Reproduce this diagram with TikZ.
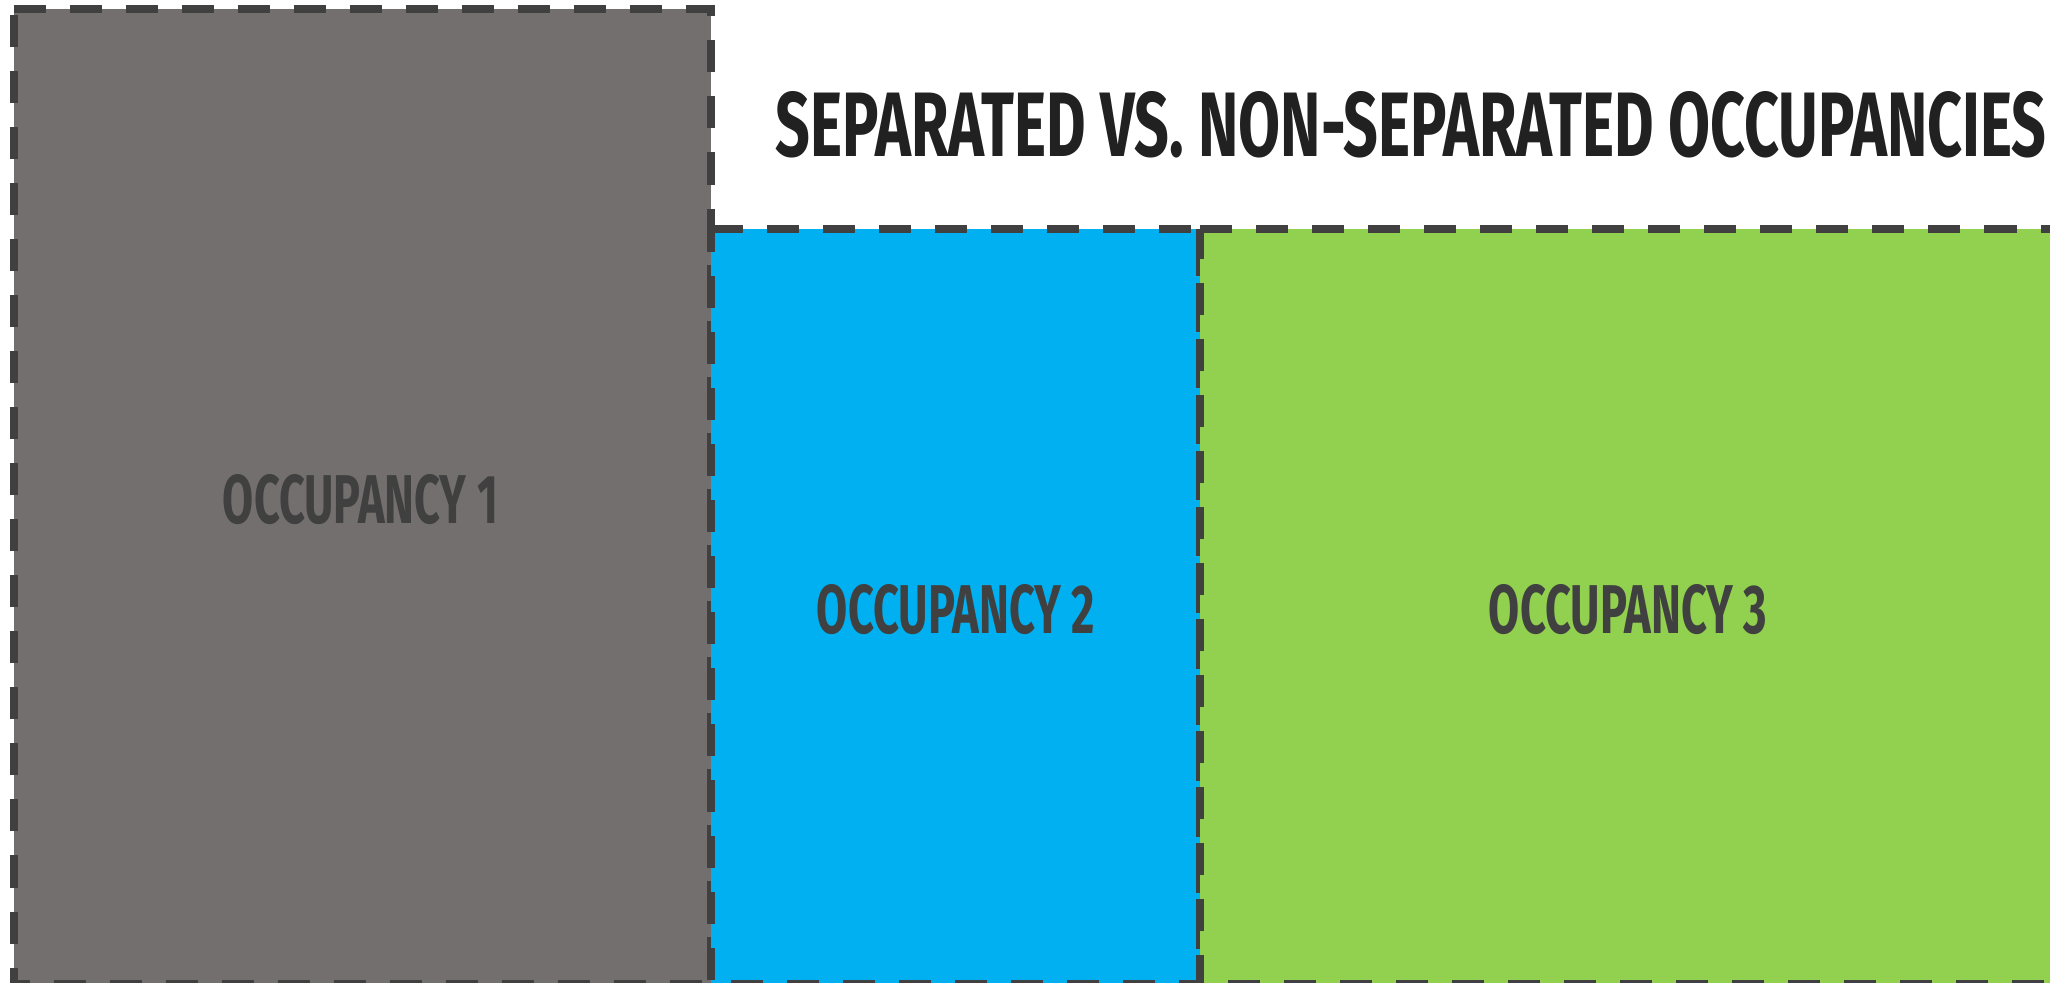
\documentclass[tikz,border=0pt]{standalone}
\usepackage{fontspec}
\setmainfont{Fira Sans}
\usepackage{graphicx}

\definecolor{occgrey}{HTML}{736F6E}
\definecolor{occblue}{HTML}{00B0F0}
\definecolor{occgreen}{HTML}{92D050}
\definecolor{wallcol}{HTML}{404040}
\definecolor{inkdark}{HTML}{212121}

\begin{document}
\begin{tikzpicture}[x=0.01cm, y=-0.01cm]
  % styles
  \tikzset{
    e/.style={draw=wallcol, line width=0.075cm, dash pattern=on 0.32cm off 0.24cm},
    t/.style={inner sep=0pt, text=wallcol, font=\bfseries}
  }

  \useasboundingbox (0,0) rectangle (2050,983);
  \clip (0,0) rectangle (2050,983);

  % coordinates (three areas side by side, the first one taller)
  \coordinate (A) at (14,9);       % grey top-left
  \coordinate (B) at (711,9);      % grey top-right
  \coordinate (C) at (711,984);    % grey bottom-right
  \coordinate (D) at (14,984);     % grey bottom-left
  \coordinate (E) at (711,229);    % blue top-left
  \coordinate (F) at (1200,229);   % blue top-right = green top-left
  \coordinate (G) at (1200,984);   % blue bottom-right = green bottom-left
  \coordinate (H) at (2057,229);   % green top-right (runs off the page)
  \coordinate (I) at (2057,984);   % green bottom-right

  % areas
  \draw[e, fill=occgrey]  (A)--(B)--(C)--(D)--cycle;
  \draw[e, fill=occblue]  (E)--(F)--(G)--(C)--cycle;
  \draw[e, fill=occgreen] (F)--(H)--(I)--(G)--cycle;

  % labels
  \node[t] (occ1) at (360.5,499.5) {\resizebox{2.75cm}{0.49cm}{OCCUPANCY 1}};
  \node[t] (occ2) at (956,609.5)   {\resizebox{2.78cm}{0.49cm}{OCCUPANCY 2}};
  \node[t] (occ3) at (1628,609.5)  {\resizebox{2.78cm}{0.49cm}{OCCUPANCY 3}};

  % heading
  \node[t, anchor=west, text=inkdark] (title) at (775,124.5)
    {\resizebox{12.7cm}{0.65cm}{SEPARATED VS. NON-SEPARATED OCCUPANCIES}};
\end{tikzpicture}
\end{document}
